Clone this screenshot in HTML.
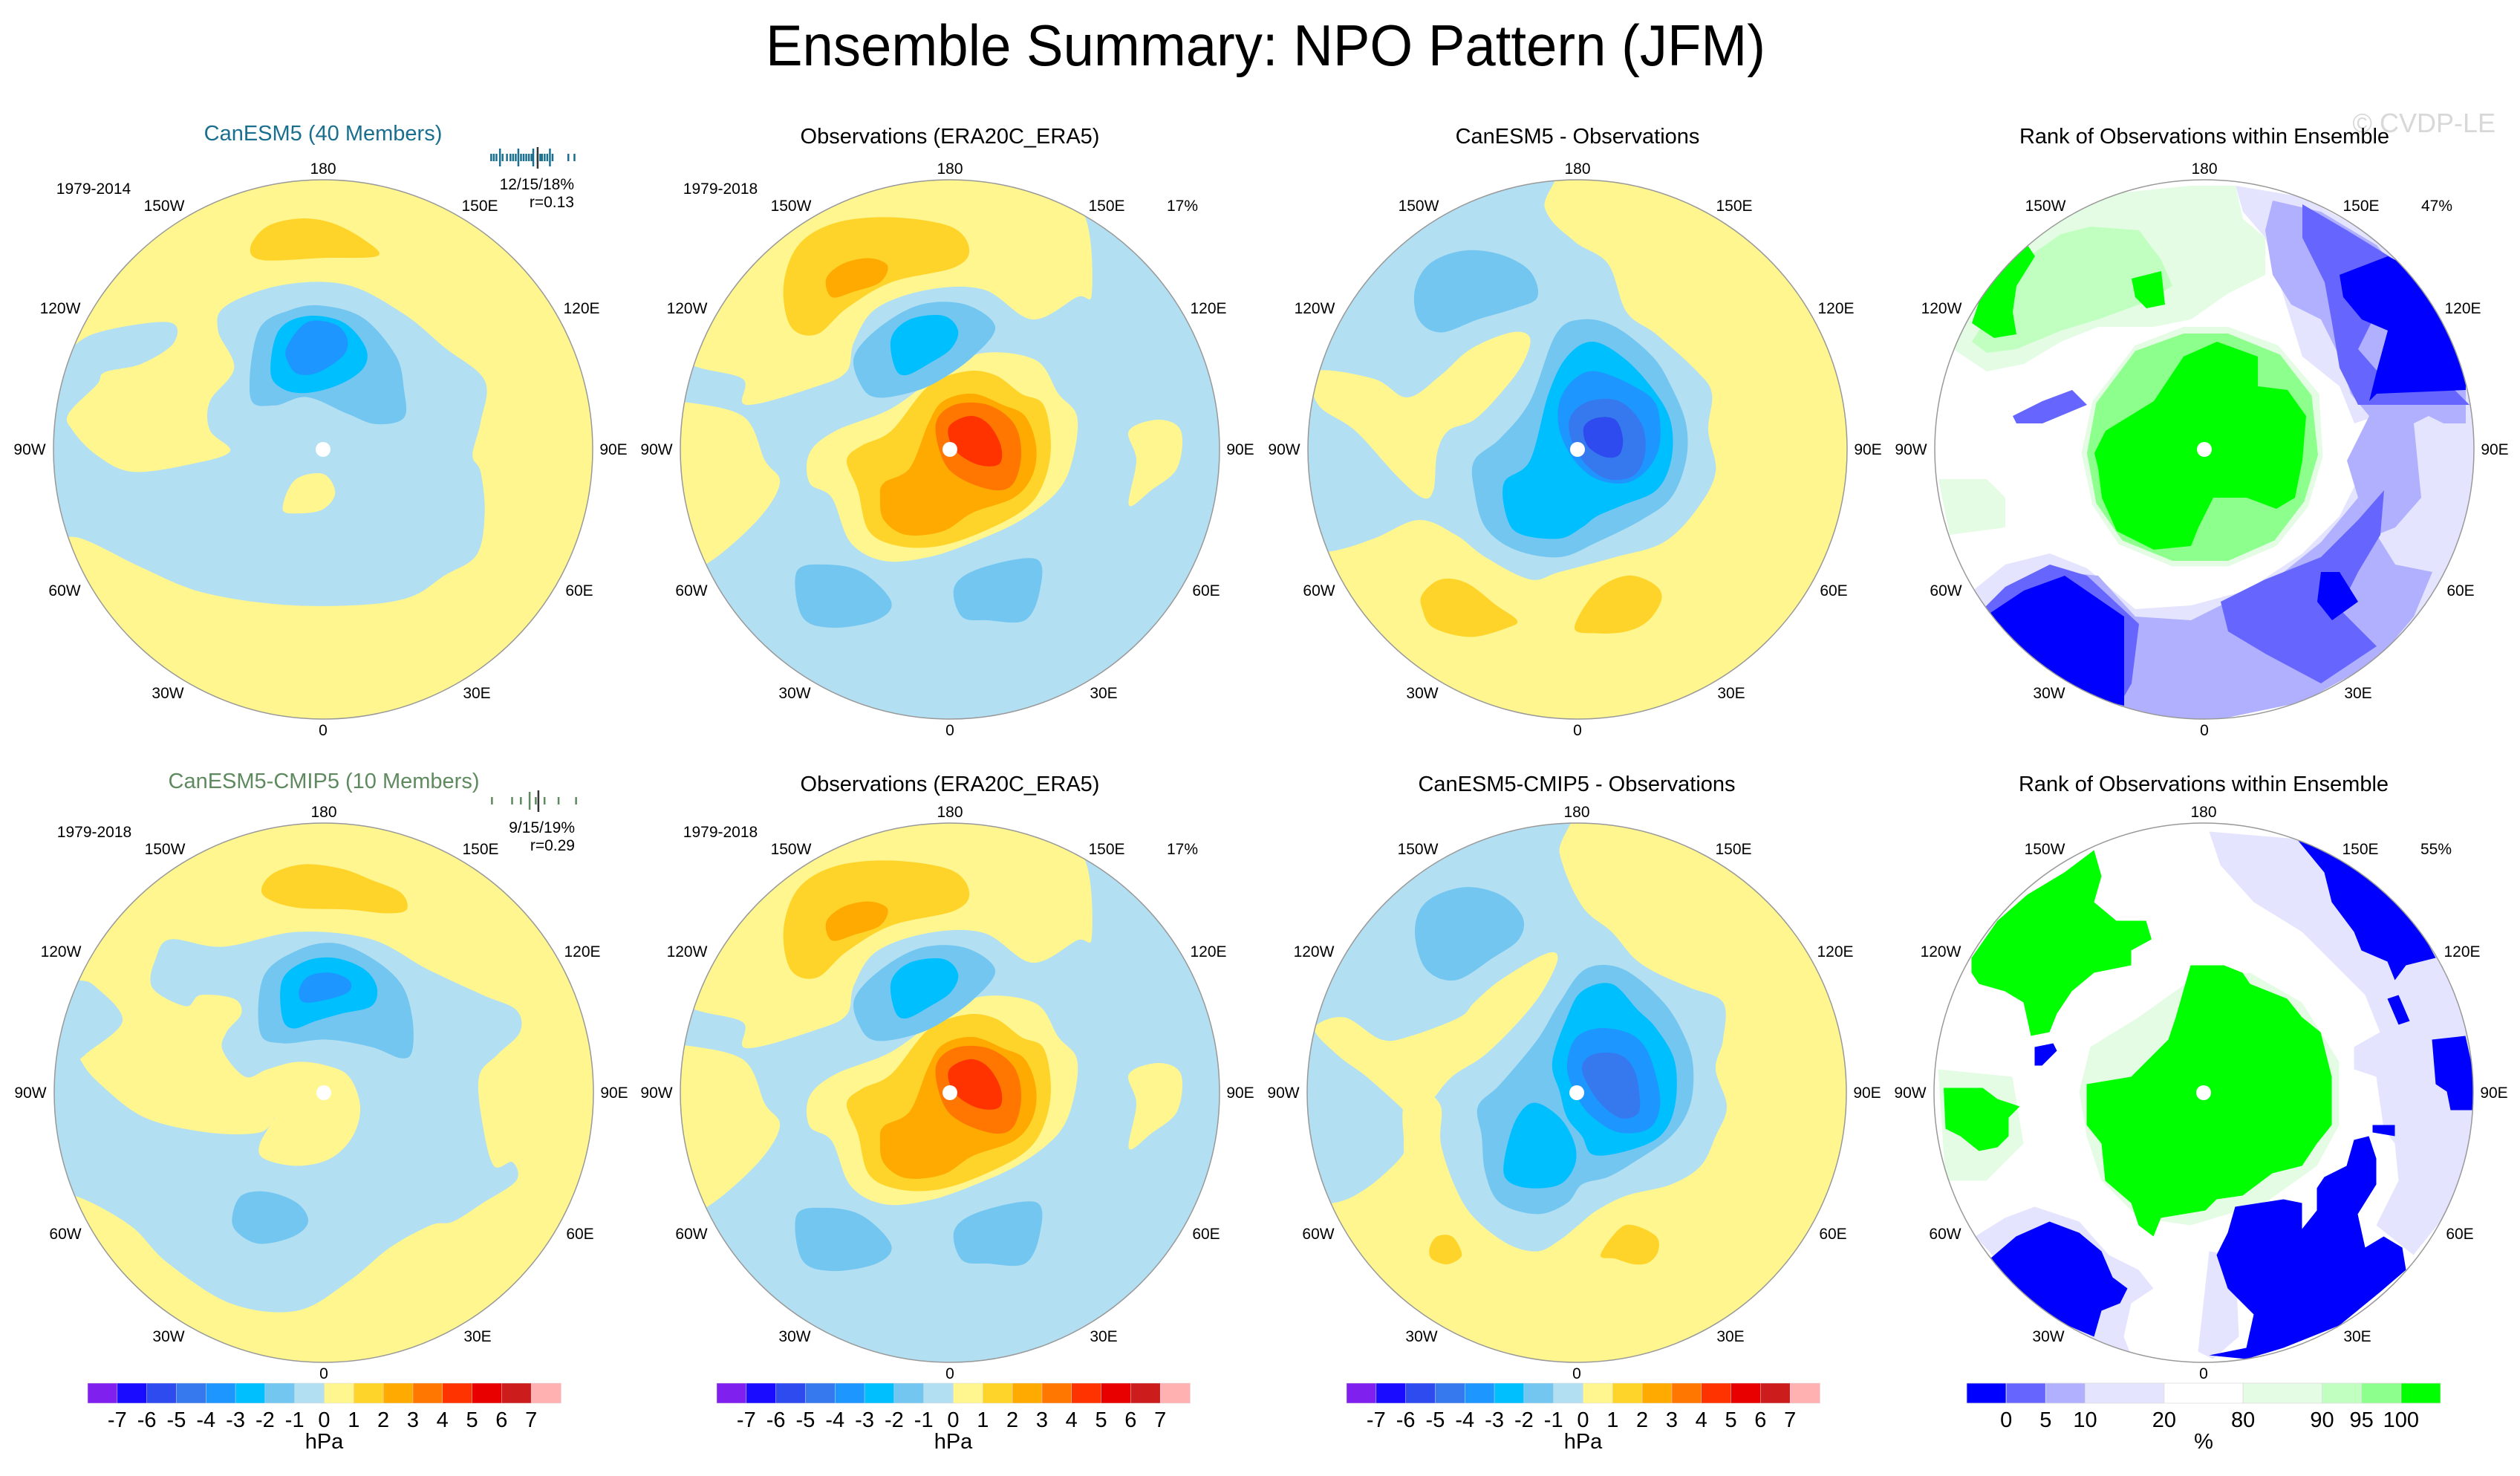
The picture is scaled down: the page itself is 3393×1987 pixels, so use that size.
<!DOCTYPE html>
<html><head><meta charset="utf-8">
<style>
html,body{margin:0;padding:0;background:#fff;}
body{width:3393px;height:1982px;overflow:hidden;font-family:"Liberation Sans",Arial,sans-serif;}
svg text{font-family:"Liberation Sans",Arial,sans-serif;}
</style></head>
<body>
<svg id="root" width="3393" height="1982" viewBox="0 0 3393 1982" xmlns="http://www.w3.org/2000/svg">
<text x="1704" y="88" font-size="78" text-anchor="middle" textLength="1346" lengthAdjust="spacingAndGlyphs" fill="#000">Ensemble Summary: NPO Pattern (JFM)</text>
<text x="3360" y="178" font-size="36" text-anchor="end" fill="#d8d8d8">© CVDP-LE</text>
<g id="panels"></g>
<g id="bars"></g>
</svg>
<script>
// ---- colour-bar data ----
const hpaLabels = ["-7","-6","-5","-4","-3","-2","-1","0","1","2","3","4","5","6","7"];
const hpaColors = ["#8020ee","#1a0dff","#2e4bf0","#3679ee","#1e96ff","#00bfff","#73c6f0","#b3dff2","#fff68f","#ffd42a","#ffaa00","#ff7700","#ff3300","#e80000","#cc1c1c","#ffb0b0"];
const rankLabels = ["0","5","10","20","80","90","95","100"];
const rankEdges = [0,5,10,20,80,90,95,100];
const rankColors = ["#0000ff","#6666ff","#b0b0ff","#e4e4ff","#ffffff","#e3fce3","#c0ffc0","#8cff8c","#00ff00"];
const rankWidths = [1,1,1,2,2,2,1,1,1];
// ensemble member ticks (relative positions 0..1)
const members40 = [0.02,0.05,0.08,0.12,0.15,0.2,0.24,0.27,0.3,0.33,0.36,0.39,0.42,0.45,0.48,0.5,0.55,0.58,0.6,0.63,0.66,0.69,0.72,0.9,0.97];
const members10 = [0.02,0.25,0.35,0.45,0.52,0.62,0.78,0.98];

const SVGNS="http://www.w3.org/2000/svg";
function el(tag,attrs,parent){const e=document.createElementNS(SVGNS,tag);for(const k in attrs)e.setAttribute(k,attrs[k]);if(parent)parent.appendChild(e);return e;}
function hpaBin(v){return Math.max(0,Math.min(15,Math.floor(v)+8));}
function rankBin(v){let i=0;while(i<rankEdges.length&&v>=rankEdges[i])i++;return i;}
function smoothPath(a){const p=[];for(let i=0;i<a.length;i+=2)p.push([a[i],a[i+1]]);const n=p.length;let d="M"+p[0][0]+","+p[0][1];
 for(let i=0;i<n;i++){const p0=p[(i-1+n)%n],p1=p[i],p2=p[(i+1)%n],p3=p[(i+2)%n];
 d+="C"+(p1[0]+(p2[0]-p0[0])/6).toFixed(1)+","+(p1[1]+(p2[1]-p0[1])/6).toFixed(1)+" "+(p2[0]-(p3[0]-p1[0])/6).toFixed(1)+","+(p2[1]-(p3[1]-p1[1])/6).toFixed(1)+" "+p2[0]+","+p2[1];}
 return d+"Z";}
function polyPath(a){let d="M"+a[0]+","+a[1];for(let i=2;i<a.length;i+=2)d+="L"+a[i]+","+a[i+1];return d+"Z";}

// ---- map contour shapes (local image coordinates) ----
const obsShapes=[
[0.5,[60,540,200,580,210,650,400,600,480,560,500,480,560,390,700,340,850,340,980,420,1100,360,1140,350,1120,140,1000,60,758,20,500,50,250,140,100,300,30,460]],
[0.5,[0,640,30,640,200,680,260,800,300,860,240,960,100,1080,0,1100]],
[0.5,[380,780,450,720,600,660,740,560,850,510,990,530,1050,620,1100,680,1090,790,1050,880,950,960,820,1020,700,1060,580,1070,490,1020,440,900,380,860]],
[0.5,[1240,720,1320,690,1380,720,1370,820,1300,880,1240,920,1260,800]],
[1.5,[310,330,350,220,450,160,600,145,760,170,810,230,770,280,600,320,480,390,400,460,330,440]],
[2.5,[425,310,470,270,540,255,590,275,570,320,500,345,440,360]],
[1.5,[480,800,520,760,600,720,700,600,800,560,880,570,950,620,1010,650,1030,760,1010,860,960,930,850,990,730,1030,620,1030,540,990,510,880]],
[2.5,[580,860,650,820,700,700,740,640,820,620,900,650,960,680,990,760,980,840,930,900,820,940,740,990,640,1000,580,960,570,900]],
[3.5,[720,700,770,650,860,650,930,700,950,780,930,860,880,880,790,850,740,800]],
[4.5,[755,710,810,680,860,700,895,760,890,810,830,810,770,770]],
[-1.5,[520,600,500,520,570,440,680,380,800,380,880,440,820,520,720,590,640,620,560,630]],
[-1.5,[345,1100,420,1080,520,1100,600,1180,560,1230,440,1250,360,1220]],
[-1.5,[770,1140,840,1090,990,1065,1000,1150,960,1230,860,1230,790,1220]],
[-2.5,[600,470,650,420,740,410,780,450,760,500,700,540,640,570,610,550]]
];
const panels=[
{cx:435,cy:605,zx:800,zy:846,s:0.544,sy:0.559,type:"hpa",base:0.5,title:"CanESM5 (40 Members)",tcol:"#1a6f8f",years:"1979-2014",shapes:[
[-0.5,[180,600,260,560,420,540,430,590,350,640,260,660,240,690,170,760,180,800,240,860,330,900,480,880,570,850,520,800,520,730,580,650,540,560,560,500,700,450,860,450,1000,520,1100,600,1200,680,1190,780,1170,860,1190,900,1200,1000,1180,1100,1100,1150,1020,1200,900,1220,700,1220,500,1190,350,1130,200,1060,100,1050,90,900,100,700]],
[0.5,[700,990,730,920,800,905,830,950,800,990,740,1000]],
[-1.5,[620,720,640,560,720,510,800,500,900,530,980,620,1000,700,1000,770,930,785,860,760,760,720,680,740]],
[-2.5,[670,660,690,560,760,525,850,540,905,600,900,650,840,690,760,710,700,700]],
[-3.5,[710,600,760,540,830,545,860,580,850,620,790,660,740,665,715,640]],
[1.5,[620,360,660,310,740,290,820,300,900,340,935,380,800,385,650,390]]]},
{cx:1279,cy:605,zx:758,zy:770,s:0.5,type:"hpa",base:-0.5,title:"Observations (ERA20C_ERA5)",tcol:"#000",years:"1979-2018",pct:"17%",shapes:obsShapes},
{cx:2124,cy:605,zx:748,zy:770,s:0.5,type:"hpa",base:0.5,title:"CanESM5 - Observations",tcol:"#000",shapes:[
[-0.5,[-50,-50,655,-50,660,120,740,210,830,270,880,400,960,460,1070,560,1110,620,1100,720,1120,830,1070,930,980,1020,850,1060,700,1100,620,1120,500,1060,420,1000,320,960,200,1010,80,1045,-50,1045]],
[0.5,[40,560,200,580,290,630,380,570,460,500,570,455,620,470,600,540,540,620,470,690,400,720,370,780,360,880,330,900,260,840,150,720,50,650]],
[-1.5,[310,340,350,270,440,235,540,245,620,290,640,360,580,390,480,420,380,455,320,420]],
[-1.5,[470,800,540,740,620,640,690,460,760,420,850,440,950,520,1000,600,1040,700,1040,800,1000,900,920,960,800,1020,700,1060,580,1040,500,980,470,880]],
[-2.5,[550,860,620,800,670,620,720,520,790,480,880,530,960,620,1000,700,1000,800,960,880,870,920,800,950,760,980,700,1010,600,1000,560,960]],
[-3.5,[700,640,740,580,800,560,900,600,960,650,970,750,940,820,880,860,800,850,740,800,700,720]],
[-4.5,[730,680,780,640,860,640,920,700,930,780,900,840,830,850,770,810,730,740]],
[-5.5,[765,710,800,685,850,690,870,740,860,785,820,790,775,760]],
[1.5,[330,1160,380,1120,450,1130,530,1190,585,1230,560,1250,460,1275,360,1250,330,1200]],
[1.5,[740,1250,800,1150,880,1110,950,1130,975,1170,940,1230,880,1260,800,1265]]]},
{cx:2968,cy:605,zx:736,zy:770,s:0.5,type:"rank",base:50,title:"Rank of Observations within Ensemble",tcol:"#000",pct:"47%",shapes:[
[85,[60,500,80,400,150,300,250,200,350,130,500,80,700,60,820,60,840,150,900,200,900,300,800,350,700,420,600,440,450,440,350,480,250,540,150,560]],
[85,[20,850,150,850,200,900,200,980,50,1000]],
[85,[405,780,435,640,550,490,680,440,800,440,935,490,1045,620,1055,790,1015,925,930,1030,800,1085,650,1085,505,1025,435,920]],
[92,[110,480,180,370,250,260,350,190,430,170,560,180,620,260,650,330,560,380,450,420,350,450,230,500,150,510]],
[97,[420,780,445,645,550,505,680,458,800,458,940,515,1025,625,1042,785,1005,910,925,1015,800,1070,650,1070,515,1015,445,915]],
[101,[440,780,470,720,600,640,680,520,770,480,880,520,880,600,960,610,1010,680,1000,800,980,900,930,930,850,900,760,900,720,980,700,1030,600,1040,500,990,460,900,450,820]],
[101,[110,430,140,340,180,280,260,220,280,250,230,330,220,400,230,460,170,470]],
[101,[540,310,620,290,630,380,580,390,550,360]],
[15,[820,60,1000,90,1200,200,1350,350,1450,500,1470,800,1470,1000,1380,1200,1200,1340,1000,1450,760,1500,500,1480,300,1380,150,1250,100,1160,200,1080,320,1050,420,1090,550,1200,700,1190,850,1150,1000,1050,1100,950,1150,850,1250,800,1270,700,1200,680,1140,700,1100,600,1000,520,950,360,900,200,840,130]],
[7.5,[920,100,1050,130,1200,220,1330,380,1440,520,1440,700,1380,700,1340,680,1300,700,1320,900,1250,980,1200,1000,1150,900,1120,800,1180,680,1130,620,1100,520,1050,420,970,380,920,300,900,180]],
[7.5,[150,1200,250,1140,350,1100,450,1110,550,1220,700,1230,800,1180,950,1100,1050,1020,1150,900,1200,1000,1250,1080,1350,1100,1300,1220,1200,1340,1000,1450,760,1500,500,1480]],
[2.5,[1000,110,1120,180,1250,260,1200,400,1150,500,1220,580,1400,600,1450,650,1150,650,1100,550,1080,430,1060,320,1000,200]],
[2.5,[780,1180,900,1120,1050,1060,1150,960,1220,880,1210,1000,1150,1100,1100,1200,1200,1300,1050,1400,900,1320,800,1260]],
[2.5,[220,680,300,640,380,610,420,650,300,700,230,700]],
[2.5,[140,1200,200,1140,320,1080,420,1110,560,1240,540,1400,500,1470,300,1400]],
[-1,[1100,300,1230,250,1330,300,1400,400,1440,500,1440,610,1200,620,1180,640,1200,560,1230,450,1160,420,1110,360]],
[-1,[160,1210,250,1150,360,1110,520,1220,520,1460,400,1430,250,1330,180,1260]],
[-1,[1050,1100,1100,1100,1150,1180,1080,1230,1040,1180]]]},
{cx:436,cy:1471,zx:772,zy:763,s:0.5,type:"hpa",base:0.5,title:"CanESM5-CMIP5 (10 Members)",tcol:"#5f8a5f",years:"1979-2018",shapes:[
[-0.5,[110,460,160,480,230,570,130,660,120,680,170,740,290,830,460,870,600,870,640,830,600,900,610,940,700,960,790,940,850,880,870,800,840,720,780,690,700,680,620,700,560,720,500,650,510,600,550,550,530,510,440,500,400,530,310,480,320,400,360,350,500,370,700,330,900,350,1050,430,1200,500,1290,540,1300,600,1240,660,1190,720,1200,850,1230,960,1280,950,1290,1000,1200,1060,1120,1110,1060,1120,950,1180,840,1270,700,1350,520,1330,350,1220,250,1120,100,1040,0,1040,0,460]],
[-1.5,[600,600,610,450,700,380,800,360,900,400,980,470,1010,560,1010,650,980,670,900,640,780,620,660,630]],
[-1.5,[525,1100,550,1040,620,1030,700,1060,730,1110,690,1150,600,1170,540,1140]],
[-2.5,[660,560,660,460,720,410,800,400,880,430,915,480,900,530,820,550,750,570,690,590]],
[-3.5,[705,490,730,450,790,440,840,460,840,490,790,510,720,520]],
[1.5,[605,210,640,170,720,148,820,160,900,190,980,225,995,270,940,280,840,270,700,265,620,240]]]},
{cx:1279,cy:1471,zx:758,zy:770,s:0.5,type:"hpa",base:-0.5,title:"Observations (ERA20C_ERA5)",tcol:"#000",years:"1979-2018",pct:"17%",shapes:obsShapes},
{cx:2123,cy:1471,zx:746,zy:763,s:0.5,type:"hpa",base:0.5,title:"CanESM5-CMIP5 - Observations",tcol:"#000",shapes:[
[-0.5,[-50,-50,685,-50,700,120,760,260,840,330,900,400,960,440,1050,480,1140,520,1140,620,1120,700,1150,800,1120,880,1080,960,1000,1010,880,1040,800,1080,750,1120,700,1160,640,1190,560,1170,470,1100,420,1020,380,900,380,800,330,760,280,800,280,900,270,940,180,1020,90,1060,-50,1060]],
[0.5,[40,590,120,560,220,620,300,610,430,560,470,520,540,460,660,390,695,400,660,480,600,560,500,660,410,720,350,790,300,830,270,800,180,720,100,660]],
[-1.5,[310,330,340,250,440,210,540,230,600,290,590,350,520,400,420,460,340,430]],
[-1.5,[480,800,540,740,640,620,700,520,770,430,870,430,980,520,1040,620,1060,700,1050,800,1000,880,900,950,830,990,760,1010,720,1060,640,1090,540,1060,500,980,490,880]],
[-2.5,[680,680,720,560,760,490,840,470,910,540,960,590,1010,680,1010,800,970,880,880,920,790,930,760,880,720,830,700,760]],
[-2.5,[550,950,580,840,630,790,700,830,740,900,740,960,700,1010,620,1020,560,1000]],
[-3.5,[720,700,740,620,800,590,880,600,930,640,960,720,970,800,940,860,860,870,790,830,750,780]],
[-4.5,[760,700,790,660,860,660,900,700,915,770,910,820,860,830,800,780]],
[1.5,[350,1180,370,1150,410,1150,435,1190,430,1210,395,1225,355,1210]],
[1.5,[810,1200,860,1130,900,1120,960,1150,965,1190,940,1220,900,1225,850,1210]]]},
{cx:2967,cy:1471,zx:735,zy:763,s:0.5,type:"rank",base:50,title:"Rank of Observations within Ensemble",tcol:"#000",pct:"55%",shapes:[
[85,[400,760,430,640,560,560,700,460,860,440,1000,520,1100,680,1100,850,1040,960,900,1060,700,1120,560,1100,460,1000,420,880]],
[85,[20,700,220,720,250,900,150,1000,40,1000]],
[15,[750,60,990,80,1100,150,1300,300,1400,400,1460,600,1460,900,1420,1050,1300,1200,1200,1120,1260,1000,1250,900,1220,860,1200,720,1140,700,1140,640,1210,600,1170,500,1050,380,1000,330,870,250,780,150]],
[15,[120,1150,200,1100,280,1070,400,1110,480,1200,560,1240,600,1290,540,1330,520,1420,540,1470,350,1400]],
[15,[720,1460,750,1190,820,1200,830,1420,760,1480]],
[-1,[990,85,1060,110,1200,190,1300,290,1360,400,1280,420,1250,460,1230,410,1160,380,1140,330,1080,250,1060,170]],
[-1,[1350,620,1440,610,1460,700,1460,810,1400,810,1390,760,1360,740]],
[-1,[1230,510,1260,500,1290,570,1260,580]],
[-1,[1190,850,1250,850,1250,880,1190,870]],
[-1,[160,1210,230,1150,320,1110,400,1140,460,1190,490,1260,530,1290,510,1330,460,1350,440,1420,300,1360,200,1270]],
[-1,[750,1470,850,1450,870,1360,800,1290,770,1200,800,1140,820,1070,950,1050,1000,1060,1000,1130,1040,1080,1040,1020,1060,990,1120,960,1140,890,1180,880,1200,940,1200,1010,1150,1090,1170,1180,1220,1150,1270,1180,1280,1240,1210,1300,1100,1390,950,1450,850,1480]],
[-1,[280,640,330,630,340,650,300,690,280,690]],
[101,[420,740,540,720,640,620,660,560,700,420,790,420,840,440,860,470,960,510,1000,560,1050,600,1080,720,1080,850,1040,900,1000,960,920,980,840,1040,770,1050,740,1080,620,1100,600,1150,560,1120,540,1060,470,1000,460,900,420,850]],
[101,[110,400,180,300,260,230,360,170,440,110,460,180,440,250,500,300,580,300,595,350,540,380,540,420,440,440,380,490,340,550,320,600,270,610,250,520,200,490,130,470,110,440]],
[101,[35,750,140,750,180,780,240,800,210,830,210,880,180,910,130,920,80,880,40,860]]]}
];
const lonLabels=[["180",0,-378],["150W",-214,-328],["150E",211,-328],["120W",-354,-190],["120E",348,-190],["90W",-395,0],["90E",391,0],["60W",-348,190],["60E",345,190],["30W",-209,328],["30E",207,328],["0",0,378]];

const root=document.getElementById("panels");
const defs=el("defs",{},document.getElementById("root"));
panels.forEach((P,pi)=>{
 const g=el("g",{},root);
 
 
 const cp=el("clipPath",{id:"clip"+pi},defs);
 el("circle",{cx:P.cx,cy:P.cy,r:363},cp);
 const mg=el("g",{"clip-path":"url(#clip"+pi+")"},g);
 const baseColor=P.type==="hpa"?hpaColors[hpaBin(P.base)]:rankColors[rankBin(P.base)];
 const bc=el("circle",{cx:P.cx,cy:P.cy,r:363,fill:baseColor},mg);
 
 
 const sy=P.sy||P.s;
 const inner=el("g",{transform:`translate(${P.cx},${P.cy}) scale(${P.s},${sy}) translate(${-P.zx},${-P.zy})`},mg);
 P.shapes.forEach(sh=>{
  const col=P.type==="hpa"?hpaColors[hpaBin(sh[0])]:rankColors[rankBin(sh[0])];
  const p=el("path",{d:P.type==="hpa"?smoothPath(sh[1]):polyPath(sh[1]),fill:col},inner);
  
  
 });
 const pole=el("circle",{cx:P.cx,cy:P.cy,r:10,fill:"#fff"},g);
 
 
 const outline=el("circle",{cx:P.cx,cy:P.cy,r:363,fill:"none",stroke:"#999","stroke-width":1.5},g);
 
 
 lonLabels.forEach(L=>{
  const t=el("text",{x:P.cx+L[1],y:P.cy+L[2]+7,"font-size":21,"text-anchor":"middle",fill:"#000"},g);
  t.textContent=L[0];
  
  
 });
 const tt=el("text",{x:P.cx,y:P.cy-(pi<4?412:406)+(P.tcol==="#000"?0:-4),"font-size":29,"text-anchor":"middle",fill:P.tcol},g);
 tt.textContent=P.title;
 
 
 if(P.years){const y=el("text",{x:P.cx-309,y:P.cy-344,"font-size":21,"text-anchor":"middle",fill:"#000"},g);y.textContent=P.years;
  
  }
 if(P.pct){const y=el("text",{x:P.cx+313,y:P.cy-321,"font-size":21,"text-anchor":"middle",fill:"#000"},g);y.textContent=P.pct;
  
  }
});

// ensemble stats for model panels
function stats(cx,cy,mem,col,txt1,txt2){
 const g=el("g",{},root);
 
 
 const x0=cx+224,x1=cx+342;
 mem.forEach((m,i)=>{const x=x0+m*(x1-x0);const tall=(i%6===3);
  const l=el("line",{x1:x,x2:x,y1:cy-(tall?405:398),y2:cy-(tall?381:388),stroke:col,"stroke-width":2.5},g);
  
  });
 const ol=el("line",{x1:x0+0.55*(x1-x0),x2:x0+0.55*(x1-x0),y1:cy-407,y2:cy-378,stroke:"#333","stroke-width":2.5},g);
 
 
 const a=el("text",{x:cx+338,y:cy-350,"font-size":21,"text-anchor":"end"},g);a.textContent=txt1;
 
 const b=el("text",{x:cx+338,y:cy-326,"font-size":21,"text-anchor":"end"},g);b.textContent=txt2;
 
}
stats(435,605,members40,"#1a6f8f","12/15/18%","r=0.13");
stats(436,1471,members10,"#5f8a5f","9/15/19%","r=0.29");

// colour bars
const bars=document.getElementById("bars");
[118,965,1813].forEach((x0,bi)=>{
 const g=el("g",{},bars);
 
 
 const w=(755-118)/hpaColors.length;
 hpaColors.forEach((c,i)=>{const r=el("rect",{x:x0+i*w,y:1862,width:w+0.5,height:27,fill:c,stroke:"#ddd","stroke-width":0.5},g);
  });
 hpaLabels.forEach((t,i)=>{const tx=el("text",{x:x0+(i+1)*w,y:1921,"font-size":29,"text-anchor":"middle"},g);tx.textContent=t;
  });
 const u=el("text",{x:x0+8*w,y:1950,"font-size":29,"text-anchor":"middle"},g);u.textContent="hPa";
 
});
(function(){
 const g=el("g",{},bars);
 
 
 const x0=2648,unit=(3286-2648)/12;let x=x0;const edgesX=[];
 rankColors.forEach((c,i)=>{const w=rankWidths[i]*unit;const r=el("rect",{x:x,y:1862,width:w,height:27,fill:c,stroke:"#ddd","stroke-width":0.8},g);
  x+=w;edgesX.push(x);});
 rankLabels.forEach((t,i)=>{const tx=el("text",{x:edgesX[i],y:1921,"font-size":29,"text-anchor":"middle"},g);tx.textContent=t;
  });
 const u=el("text",{x:(x0+3286)/2,y:1950,"font-size":29,"text-anchor":"middle"},g);u.textContent="%";
 
})();
</script>
</body></html>
